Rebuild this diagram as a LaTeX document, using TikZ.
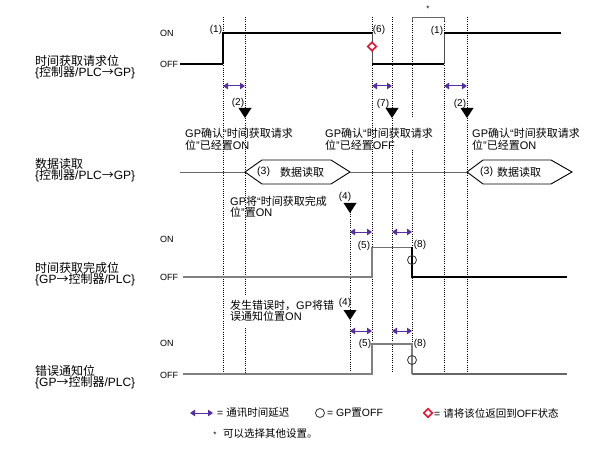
\documentclass[tikz,border=0pt]{standalone}
\usepackage{fontspec}
\setmainfont{Liberation Sans}
\newfontfamily\cjk{Noto Sans CJK SC}
\newcommand\zh[1]{{\cjk #1}}
\usetikzlibrary{arrows.meta}
\definecolor{delay}{RGB}{85,45,165}
\definecolor{wred}{RGB}{230,20,50}
\tikzset{
  dotv/.style={line width=0.8pt, dash pattern=on 0.8pt off 1.4pt},
  sigk/.style={line width=1.1pt, black},
  sigv/.style={line width=0.9pt, black!70},
  sigg/.style={line width=1.2pt, black!50},
  datal/.style={line width=0.9pt, black!60},
  hexa/.style={line width=0.9pt, black},
  dly/.style={delay, line width=1pt, {Triangle[length=5pt,width=6.5pt]}-{Triangle[length=5pt,width=6.5pt]}},
  labt/.style={font=\fontsize{12}{12}\selectfont, anchor=west, inner sep=0pt},
  txt/.style={font=\fontsize{11}{11}\selectfont, anchor=west, inner sep=0pt},
  lvl/.style={font=\fontsize{9}{9}\selectfont, anchor=west, inner sep=0pt},
  num/.style={font=\fontsize{10}{10}\selectfont, inner sep=0pt},
  numw/.style={font=\fontsize{10.5}{10.5}\selectfont, anchor=west, inner sep=0pt},
  legt/.style={font=\fontsize{10.5}{10.5}\selectfont, anchor=west, inner sep=0pt},
  downtri/.pic={\fill[black] (-6.5,-5) -- (6.5,-5) -- (0,5) -- cycle;},
  rdiam/.pic={\draw[wred, line width=1.6pt, fill=white] (0,-4.2) -- (4.2,0) -- (0,4.2) -- (-4.2,0) -- cycle;},
  offc/.style={draw=black!80, line width=0.8pt, circle, minimum size=9pt, inner sep=0pt}
}
\begin{document}
\begin{tikzpicture}[x=1pt,y=-1pt]
\useasboundingbox (0,0) rectangle (594,457);

% dotted time markers
\foreach \x in {223,372,392,444,467} \draw[dotv] (\x,17) -- (\x,373);
\draw[dotv] (245,17) -- (245,296) (245,328) -- (245,373);
\draw[dotv] (412,17) -- (412,118) (412,150) -- (412,373);
\draw[dotv] (350,212) -- (350,373);

% star bracket
\draw[black!60, line width=0.8pt] (412,21) -- (412,17) -- (444,17) -- (444,21);
\node[font=\fontsize{8}{8}\selectfont, inner sep=0pt] (star) at (428,9) {*};

% left labels
\node[labt] (l1a) at (35,61) {\zh{时间获取请求位}};
\node[labt] (l1b) at (35,73) {\{\zh{控制器}/PLC\zh{→}GP\}};
\node[labt] (l2a) at (35,164) {\zh{数据读取}};
\node[labt] (l2b) at (35,176) {\{\zh{控制器}/PLC\zh{→}GP\}};
\node[labt] (l3a) at (35,268) {\zh{时间获取完成位}};
\node[labt] (l3b) at (35,280) {\{GP\zh{→}\zh{控制器}/PLC\}};
\node[labt] (l4a) at (35,371) {\zh{错误通知位}};
\node[labt] (l4b) at (35,383) {\{GP\zh{→}\zh{控制器}/PLC\}};

% level labels
\node[lvl] (on1) at (160,33) {ON};
\node[lvl] (off1) at (160,64) {OFF};
\node[lvl] (on3) at (160,239) {ON};
\node[lvl] (off3) at (160,277) {OFF};
\node[lvl] (on4) at (160,343) {ON};
\node[lvl] (off4) at (160,375) {OFF};

% signal 1
\draw[sigk] (180,64) -- (223,64);
\draw[sigk] (223,64) -- (223,33) -- (372,33);
\draw[sigv] (372,33) -- (372,64);
\draw[sigk] (372,64) -- (444,64);
\draw[sigv] (444,64) -- (444,33);
\draw[sigk] (444,33) -- (561,33);
\pic at (372,46.5) {rdiam};
\node[num] (n1a) at (216,30) {(1)};
\node[num] (n6) at (379,30) {(6)};
\node[num] (n1b) at (437,31) {(1)};

% delay arrows row 1
\draw[dly] (223,86) -- (245,86);
\draw[dly] (372,86) -- (392,86);
\draw[dly] (444,86) -- (467,86);

% triangles (2),(7),(2)
\pic at (245,113) {downtri};
\pic at (392,113) {downtri};
\pic at (467,113) {downtri};
\node[num] (n2a) at (238,103) {(2)};
\node[num] (n7) at (383,104) {(7)};
\node[num] (n2b) at (460,104) {(2)};

% texts row 1
\node[txt] (t1a) at (185,133) {GP\zh{确认}“\zh{时间获取请求}};
\node[txt] (t1b) at (185,145) {\zh{位}”\zh{已经置}ON};
\node[txt] (t2a) at (325,133) {GP\zh{确认}“\zh{时间获取请求}};
\node[txt] (t2b) at (325,145) {\zh{位}”\zh{已经置}OFF};
\node[txt] (t3a) at (472,133) {GP\zh{确认}“\zh{时间获取请求}};
\node[txt] (t3b) at (472,145) {\zh{位}”\zh{已经置}ON};

% signal 2 (data read)
\draw[datal] (180,172) -- (245,172);
\draw[hexa] (245,172) -- (262,160) -- (331,160) -- (350,172) -- (331,184) -- (262,184) -- cycle;
\draw[datal] (350,172) -- (467,172);
\draw[hexa] (467,172) -- (483,160) -- (551,160) -- (572,172) -- (551,184) -- (483,184) -- cycle;
\node[numw] (h1n) at (257,172) {(3)};
\node[txt] (h1t) at (280,172) {\zh{数据读取}};
\node[numw] (h2n) at (480,172) {(3)};
\node[txt] (h2t) at (497,172) {\zh{数据读取}};

% (4) first
\node[txt] (t4a) at (230,201) {GP\zh{将}“\zh{时间获取完成}};
\node[txt] (t4b) at (230,212) {\zh{位}”\zh{置}ON};
\node[num] (n4a) at (345,197) {(4)};
\pic at (350,208) {downtri};

% delay arrows row 2
\draw[dly] (350,232) -- (372,232);
\draw[dly] (392,232) -- (412,232);

% signal 3
\draw[sigg] (183,277) -- (372,277) -- (372,247);
\draw[line width=0.9pt, black!55] (372,247) -- (412,247);
\draw[sigk] (412,247) -- (412,277) -- (567,277);
\node[offc] (c3) at (412,260) {};
\node[num] (n5a) at (364,246) {(5)};
\node[num] (n8a) at (420,245) {(8)};

% (4) second
\node[txt] (t5a) at (230,305) {\zh{发生错误时，}GP\zh{将错}};
\node[txt] (t5b) at (230,316) {\zh{误通知位置}ON};
\node[num] (n4b) at (345,303) {(4)};
\pic at (350,315) {downtri};

% delay arrows row 3
\draw[dly] (350,331) -- (372,331);
\draw[dly] (392,331) -- (412,331);

% signal 4
\draw[sigg] (183,374) -- (372,374) -- (372,344) -- (412,344) -- (412,374);
\draw[line width=1.1pt, black!60] (412,374) -- (567,374);
\node[offc] (c4) at (412,360) {};
\node[num] (n5b) at (365,344) {(5)};
\node[num] (n8b) at (420,344) {(8)};

% legend
\draw[dly] (190,413) -- (213,413);
\node[legt] (lg1) at (217,413) {= \zh{通讯时间延迟}};
\node[offc] (lgc) at (320,413) {};
\node[legt] (lg2) at (327,413) {= GP\zh{置}OFF};
\pic at (428,413) {rdiam};
\node[legt] (lg3) at (434,413) {= \zh{请将该位返回到}OFF\zh{状态}};
\node[font=\fontsize{8}{8}\selectfont, inner sep=0pt] (lgs) at (215,435) {*};
\node[legt] (lg4) at (223,434) {\zh{可以选择其他设置。}};
\end{tikzpicture}
\end{document}
